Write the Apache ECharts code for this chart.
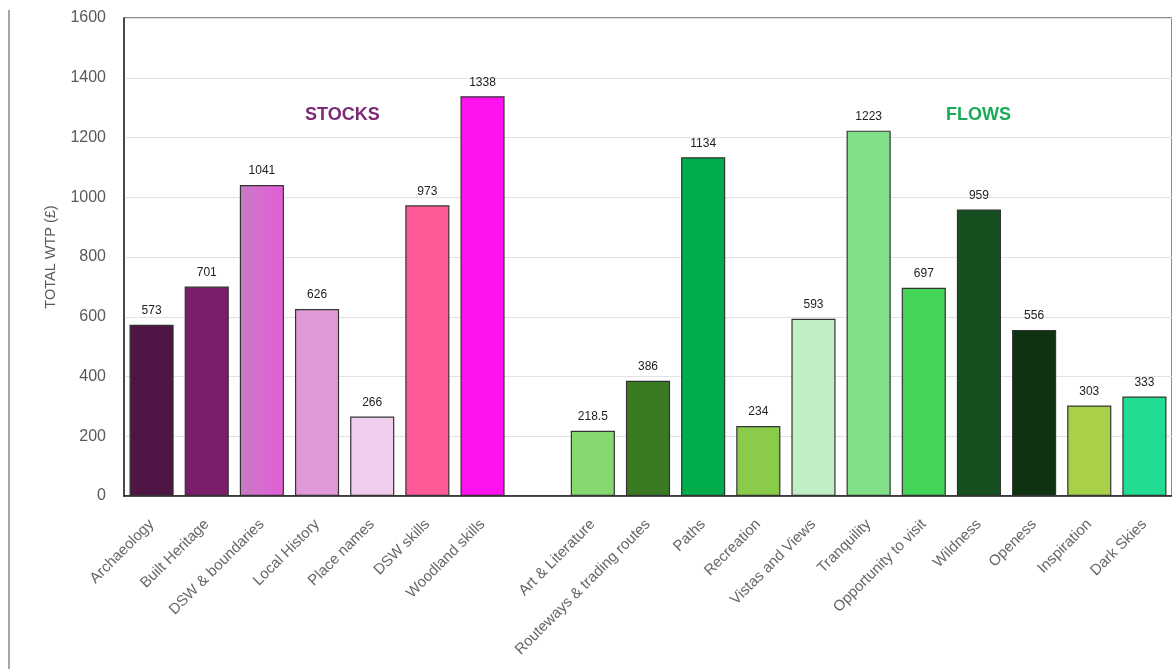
<!DOCTYPE html>
<html>
<head>
<meta charset="utf-8">
<script src="https://cdn.jsdelivr.net/npm/echarts@6/dist/echarts.min.js"></script>
<style>
  html, body { margin: 0; padding: 0; background: #fff; }
  #chart { width: 1172px; height: 669px; }
</style>
</head>
<body>
<div id="chart"></div>
<script>
// Willingness-to-pay totals, grouped as stocks and flows (empty slot between groups)
const stockCategories = ['Archaeology', 'Built Heritage', 'DSW & boundaries', 'Local History', 'Place names', 'DSW skills', 'Woodland skills'];
const stockValues = [573, 701, 1041, 626, 266, 973, 1338];
const stockColors = ['#4e1545', '#7a1e6c', 'gradient', '#e09ad8', '#f0cced', '#ff5a98', '#ff12f0'];

const flowCategories = ['Art & Literature', 'Routeways & trading routes', 'Paths', 'Recreation', 'Vistas and Views', 'Tranquility', 'Opportunity to visit', 'Wildness', 'Openess', 'Inspiration', 'Dark Skies'];
const flowValues = [218.5, 386, 1134, 234, 593, 1223, 697, 959, 556, 303, 333];
const flowColors = ['#88d870', '#3a7a22', '#00ad4c', '#8acc4a', '#c2eec6', '#82e08a', '#44d458', '#175020', '#0f3210', '#a8d048', '#22dc92'];

const yTicks = { min: 0, max: 1600, interval: 200 };

const categories = [...stockCategories, '', ...flowCategories];
const colorList = [...stockColors, null, ...flowColors];
const values = [...stockValues, null, ...flowValues];

const dswGradient = new echarts.graphic.LinearGradient(0, 0, 1, 0, [
  { offset: 0, color: '#c87cc4' },
  { offset: 1, color: '#e45cd8' }
]);

const barData = values.map((v, i) => {
  if (v === null) return '-';
  const c = colorList[i] === 'gradient' ? dswGradient : colorList[i];
  return { value: v, itemStyle: { color: c } };
});

const chart = echarts.init(document.getElementById('chart'));
chart.setOption({
  animation: false,
  backgroundColor: '#fff',
  grid: {
    left: 124, top: 18, bottom: 173, width: 1051,
    show: true, borderColor: '#666', borderWidth: 1.5, backgroundColor: 'transparent'
  },
  xAxis: {
    type: 'category',
    data: categories,
    axisLine: { lineStyle: { color: '#222', width: 1.5 } },
    axisTick: { show: false },
    axisLabel: {
      interval: 0, rotate: 45, margin: 26,
      color: '#666', fontSize: 15,
      fontFamily: '"Liberation Sans", sans-serif'
    }
  },
  yAxis: {
    type: 'value',
    min: yTicks.min, max: yTicks.max, interval: yTicks.interval,
    name: 'TOTAL WTP (£)',
    nameLocation: 'middle', nameGap: 66,
    nameTextStyle: { color: '#595959', fontSize: 14.5, fontFamily: '"Liberation Sans", sans-serif' },
    axisLine: { show: true, lineStyle: { color: '#333', width: 1.5 } },
    axisTick: { show: false },
    axisLabel: {
      color: '#595959', fontSize: 16, margin: 18,
      fontFamily: '"Liberation Sans", sans-serif',
      formatter: v => String(v)
    },
    splitLine: { lineStyle: { color: '#e2e2e2', width: 1 } }
  },
  series: [{
    type: 'bar',
    data: barData,
    barCategoryGap: '20%',
    itemStyle: { borderColor: '#333', borderWidth: 1.2 },
    label: {
      show: true, position: 'top', distance: 8,
      color: '#222', fontSize: 12,
      fontFamily: '"Liberation Sans", sans-serif'
    }
  }],
  graphic: [
    {
      type: 'line', silent: true,
      shape: { x1: 9, y1: 10, x2: 9, y2: 669 },
      style: { stroke: '#a6a6a6', lineWidth: 2 }
    },
    {
      type: 'text', left: 305, top: 106,
      style: { text: 'STOCKS', fill: '#7b2a78', font: 'bold 18px "Liberation Sans", sans-serif' }
    },
    {
      type: 'text', left: 946, top: 106,
      style: { text: 'FLOWS', fill: '#1aaa58', font: 'bold 18px "Liberation Sans", sans-serif' }
    }
  ]
});
</script>
</body>
</html>
